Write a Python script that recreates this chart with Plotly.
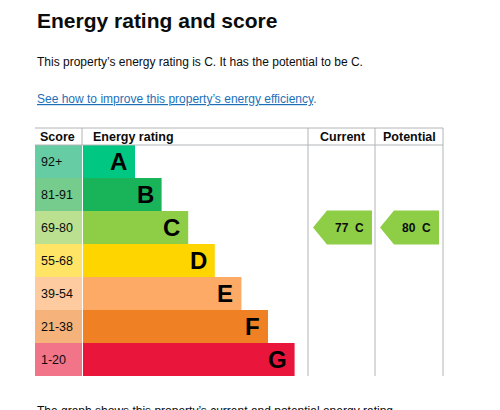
import plotly.graph_objects as go

bands = ["A", "B", "C", "D", "E", "F", "G"]
scores = ["92+", "81-91", "69-80", "55-68", "39-54", "21-38", "1-20"]
band_colours = ["#00c781", "#19b459", "#8dce46", "#ffd500", "#fcaa65", "#ef8023", "#e9153b"]
score_colours = ["#66cca4", "#75cc8d", "#bbe08f", "#ffe466", "#fdcb9f", "#f5b27a", "#f27489"]
current = (77, "C")
potential = (80, "C")

# layout in pixel units (page body has an 8px margin, so offset the ranges)
top, row_h = 145, 33
x0, x_score, x_cur, x_pot, x_end = 35, 83, 308, 375, 443
centers = [top + row_h * i + row_h / 2 for i in range(len(bands))]
lengths = [52 + 26.6 * i for i in range(len(bands))]
font = "Liberation Sans, Arial"

fig = go.Figure()
fig.add_trace(go.Bar(orientation="h", y=centers, x=[x_score - x0 - 1] * 7, base=x0,
                     width=row_h, marker=dict(color=score_colours, line_width=0)))
fig.add_trace(go.Bar(orientation="h", y=centers, x=lengths, base=x_score,
                     width=row_h, marker=dict(color=band_colours, line_width=0)))

ann = []
for i, b in enumerate(bands):
    ann.append(dict(x=x_score + lengths[i] - 6, y=centers[i], text="<b>%s</b>" % b, xanchor="right",
                    font=dict(size=24, color="black", family=font)))
    ann.append(dict(x=x0 + 4, y=centers[i], text=scores[i], xanchor="left",
                    font=dict(size=12.5, color="#0b0c0c", family=font)))

for (val, band), xl in [(current, x_cur + 5), (potential, x_pot + 5)]:
    yc = centers[bands.index(band)]
    h = 17
    fig.add_trace(go.Scatter(x=[xl, xl + 14, xl + 59, xl + 59, xl + 14, xl],
                             y=[yc, yc - h, yc - h, yc + h, yc + h, yc],
                             fill="toself", fillcolor=band_colours[bands.index(band)],
                             line_width=0, mode="lines", hoverinfo="skip"))
    ann.append(dict(x=xl + 36, y=yc, text="<b>%d  %s</b>" % (val, band),
                    font=dict(size=12, color="#0b0c0c", family=font)))

for x, t in [(x0 + 3, "Score"), (x_score + 8, "Energy rating"), (x_cur + 10, "Current"), (x_pot + 6, "Potential")]:
    ann.append(dict(x=x, y=136.5, text="<b>%s</b>" % t, xanchor="left",
                    font=dict(size=12.5, color="#0b0c0c", family=font)))

ann += [
    dict(x=x0, y=20, text="<b>Energy rating and score</b>", xanchor="left",
         font=dict(size=21, color="#0b0c0c", family=font)),
    dict(x=x0, y=62, text="This property’s energy rating is C. It has the potential to be C.", xanchor="left",
         font=dict(size=12, color="#0b0c0c", family=font)),
    dict(x=x0, y=99, text="<u>See how to improve this property’s energy efficiency</u>.", xanchor="left",
         font=dict(size=12, color="#1d70b8", family=font)),
    dict(x=x0, y=411, text="The graph shows this property’s current and potential energy rating.", xanchor="left",
         font=dict(size=12, color="#0b0c0c", family=font)),
]

grey = dict(color="#b1b4b6", width=1)
shapes = [
    dict(type="line", x0=x0, x1=x_end, y0=128, y1=128, line=grey),
    dict(type="line", x0=x0, x1=x_end, y0=top, y1=top, line=grey),
    dict(type="line", x0=x_score - 1, x1=x_score - 1, y0=128, y1=top, line=grey),
    dict(type="line", x0=x_cur, x1=x_cur, y0=128, y1=top + 7 * row_h, line=grey),
    dict(type="line", x0=x_pot, x1=x_pot, y0=128, y1=top + 7 * row_h, line=grey),
    dict(type="line", x0=x_end, x1=x_end, y0=128, y1=top + 7 * row_h, line=grey),
]
for a in ann:
    a.setdefault("showarrow", False)
    a.setdefault("yanchor", "middle")

fig.update_layout(width=500, height=410, margin=dict(l=0, r=0, t=0, b=0),
                  plot_bgcolor="white", paper_bgcolor="white", showlegend=False,
                  barmode="overlay", annotations=ann, shapes=shapes,
                  xaxis=dict(range=[8, 508], visible=False, fixedrange=True),
                  yaxis=dict(range=[418, 8], visible=False, fixedrange=True))
fig.write_html("out.html", config={"displayModeBar": False})
